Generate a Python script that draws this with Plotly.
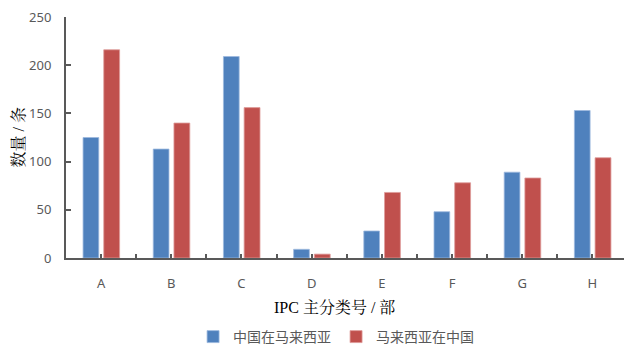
import plotly.graph_objects as go

# IPC sections and patent counts for each direction of filing
categories = ["A", "B", "C", "D", "E", "F", "G", "H"]
china_in_malaysia = [125, 113, 209, 9, 28, 48, 89, 153]
malaysia_in_china = [216, 140, 156, 4, 68, 78, 83, 104]
series_names = ["中国在马来西亚", "马来西亚在中国"]
y_ticks = [0, 50, 100, 150, 200, 250]

xpos = list(range(len(categories)))
BLUE = "#4F81BD"
RED = "#C0504D"
AXIS = "#595959"
SANS = "Noto Sans, Noto Sans CJK SC, sans-serif"
SERIF = "Liberation Serif, Noto Serif CJK SC, Noto Sans CJK SC, serif"

fig = go.Figure()
fig.add_trace(go.Bar(
    x=xpos, y=china_in_malaysia, name=series_names[0],
    marker=dict(color=BLUE, line=dict(color="#9DB9DE", width=0.8)),
    width=0.224, offset=-0.257,
))
fig.add_trace(go.Bar(
    x=xpos, y=malaysia_in_china, name=series_names[1],
    marker=dict(color=RED, line=dict(color="#DE9C9A", width=0.8)),
    width=0.226, offset=0.038,
))

fig.update_layout(
    width=624, height=345,
    margin=dict(l=66, r=0, t=17, b=87, autoexpand=False),
    plot_bgcolor="white", paper_bgcolor="white",
    barmode="overlay",
    showlegend=True,
    legend=dict(
        orientation="h", x=0.484, xanchor="center",
        yref="container", y=1 - 337 / 345, yanchor="middle",
        font=dict(family=SANS, size=14, color=AXIS),
        itemwidth=30, tracegroupgap=0,
    ),
    xaxis=dict(
        range=[-0.5, 7.45],
        tickmode="array", tickvals=xpos, ticktext=categories,
        ticks="inside", ticklen=4, tickwidth=2, tickcolor=AXIS,
        minor=dict(tickmode="array", tickvals=[i + 0.5 for i in xpos],
                   ticks="inside", ticklen=4, tickwidth=2, tickcolor=AXIS),
        showline=True, linecolor=AXIS, linewidth=2,
        showgrid=False, zeroline=False,
        ticklabelstandoff=12,
        tickfont=dict(family=SANS, size=13, color=AXIS),
    ),
    yaxis=dict(
        range=[0, 250],
        tickmode="array", tickvals=y_ticks,
        ticks="inside", ticklen=5, tickwidth=2, tickcolor=AXIS,
        showline=True, linecolor=AXIS, linewidth=2,
        showgrid=False, zeroline=False,
        ticklabelstandoff=10,
        tickfont=dict(family=SANS, size=13, color=AXIS),
    ),
    annotations=[
        dict(text="IPC 主分类号 / 部", x=(334 - 66) / 558, y=(258 - 307) / 241,
             xref="paper", yref="paper",
             xanchor="center", yanchor="middle", showarrow=False,
             font=dict(family=SERIF, size=16, color="black")),
        dict(text="数量 / 条", x=(18 - 66) / 558, y=0.5, xref="paper", yref="paper",
             xanchor="center", yanchor="middle", showarrow=False, textangle=-90,
             font=dict(family=SERIF, size=16, color="black")),
    ],
)

fig.write_html("out.html")
